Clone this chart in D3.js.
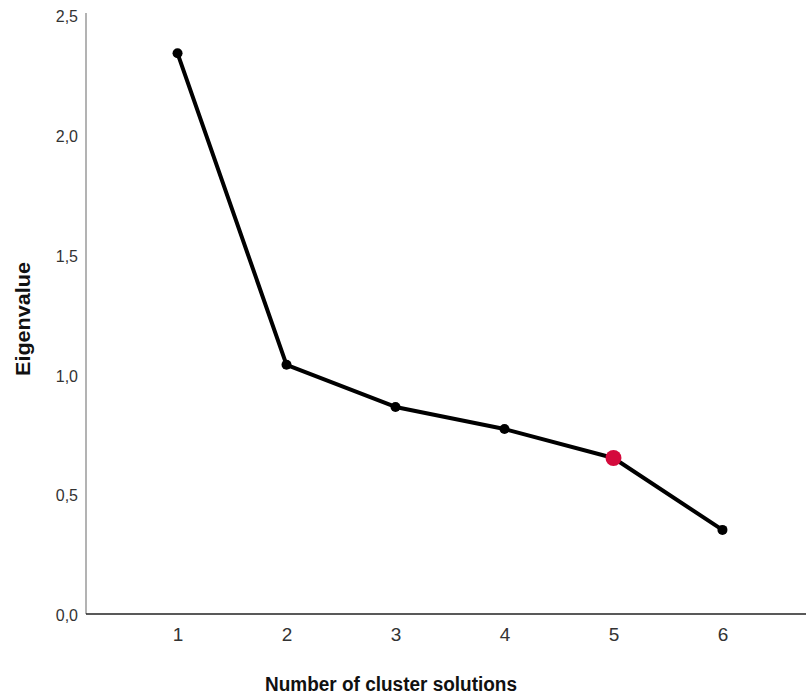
<!DOCTYPE html>
<html>
<head>
<meta charset="utf-8">
<script src="https://cdn.jsdelivr.net/npm/d3@7"></script>
<style>
  body { margin: 0; background: #fff; }
  svg { display: block; font-family: "Liberation Sans", Arial, sans-serif; }
</style>
</head>
<body>
<svg width="806" height="697"></svg>
<script>
// Scree plot values
const clusters = [1, 2, 3, 4, 5, 6];
const eigenvalues = [2.34, 1.04, 0.864, 0.772, 0.651, 0.351];
const highlighted = 5;
const yTicks = [0, 0.5, 1.0, 1.5, 2.0, 2.5];

const svg = d3.select("svg");

const x = d3.scalePoint()
  .domain(clusters)
  .range([86, 814])
  .padding(0.84);

const y = d3.scaleLinear()
  .domain([0, 2.5])
  .range([614, 15]);

const fmt = d => d3.format(".1f")(d).replace(".", ",");

// y axis (no tick marks, grey line)
const yAxis = svg.append("g")
  .attr("transform", "translate(86,0)")
  .call(d3.axisLeft(y).tickValues(yTicks).tickFormat(fmt).tickSize(0).tickPadding(8));
yAxis.select(".domain").attr("stroke", "#8a8a8a").attr("stroke-width", 1.3)
  .attr("d", "M0,13V614");
yAxis.selectAll("text")
  .attr("font-size", 16).attr("fill", "#333").attr("dy", "0.42em");

// x axis
const xAxis = svg.append("g")
  .attr("transform", "translate(0,614)")
  .call(d3.axisBottom(x).tickSize(0).tickPadding(14));
xAxis.select(".domain").attr("stroke", "#222").attr("stroke-width", 1.3)
  .attr("d", "M86,0H806");
xAxis.selectAll("text").attr("font-size", 19).attr("fill", "#333");

// axis titles
svg.append("text")
  .attr("x", 265).attr("y", 691)
  .attr("font-size", 20).attr("font-weight", "bold").attr("fill", "#111")
  .attr("textLength", 252).attr("lengthAdjust", "spacingAndGlyphs")
  .text("Number of cluster solutions");

svg.append("text")
  .attr("transform", "translate(30,376) rotate(-90)")
  .attr("font-size", 20).attr("font-weight", "bold").attr("fill", "#111")
  .attr("textLength", 114).attr("lengthAdjust", "spacingAndGlyphs")
  .text("Eigenvalue");

const pts = clusters.map((c, i) => ({ c: c, v: eigenvalues[i] }));

svg.append("path")
  .datum(pts)
  .attr("fill", "none")
  .attr("stroke", "#000")
  .attr("stroke-width", 4)
  .attr("stroke-linejoin", "round")
  .attr("d", d3.line().x(d => x(d.c)).y(d => y(d.v)));

svg.append("g")
  .selectAll("circle")
  .data(pts)
  .enter()
  .append("circle")
  .attr("cx", d => x(d.c))
  .attr("cy", d => y(d.v))
  .attr("r", d => d.c === highlighted ? 8 : 5)
  .attr("fill", d => d.c === highlighted ? "#d40a3c" : "#000");
</script>
</body>
</html>
